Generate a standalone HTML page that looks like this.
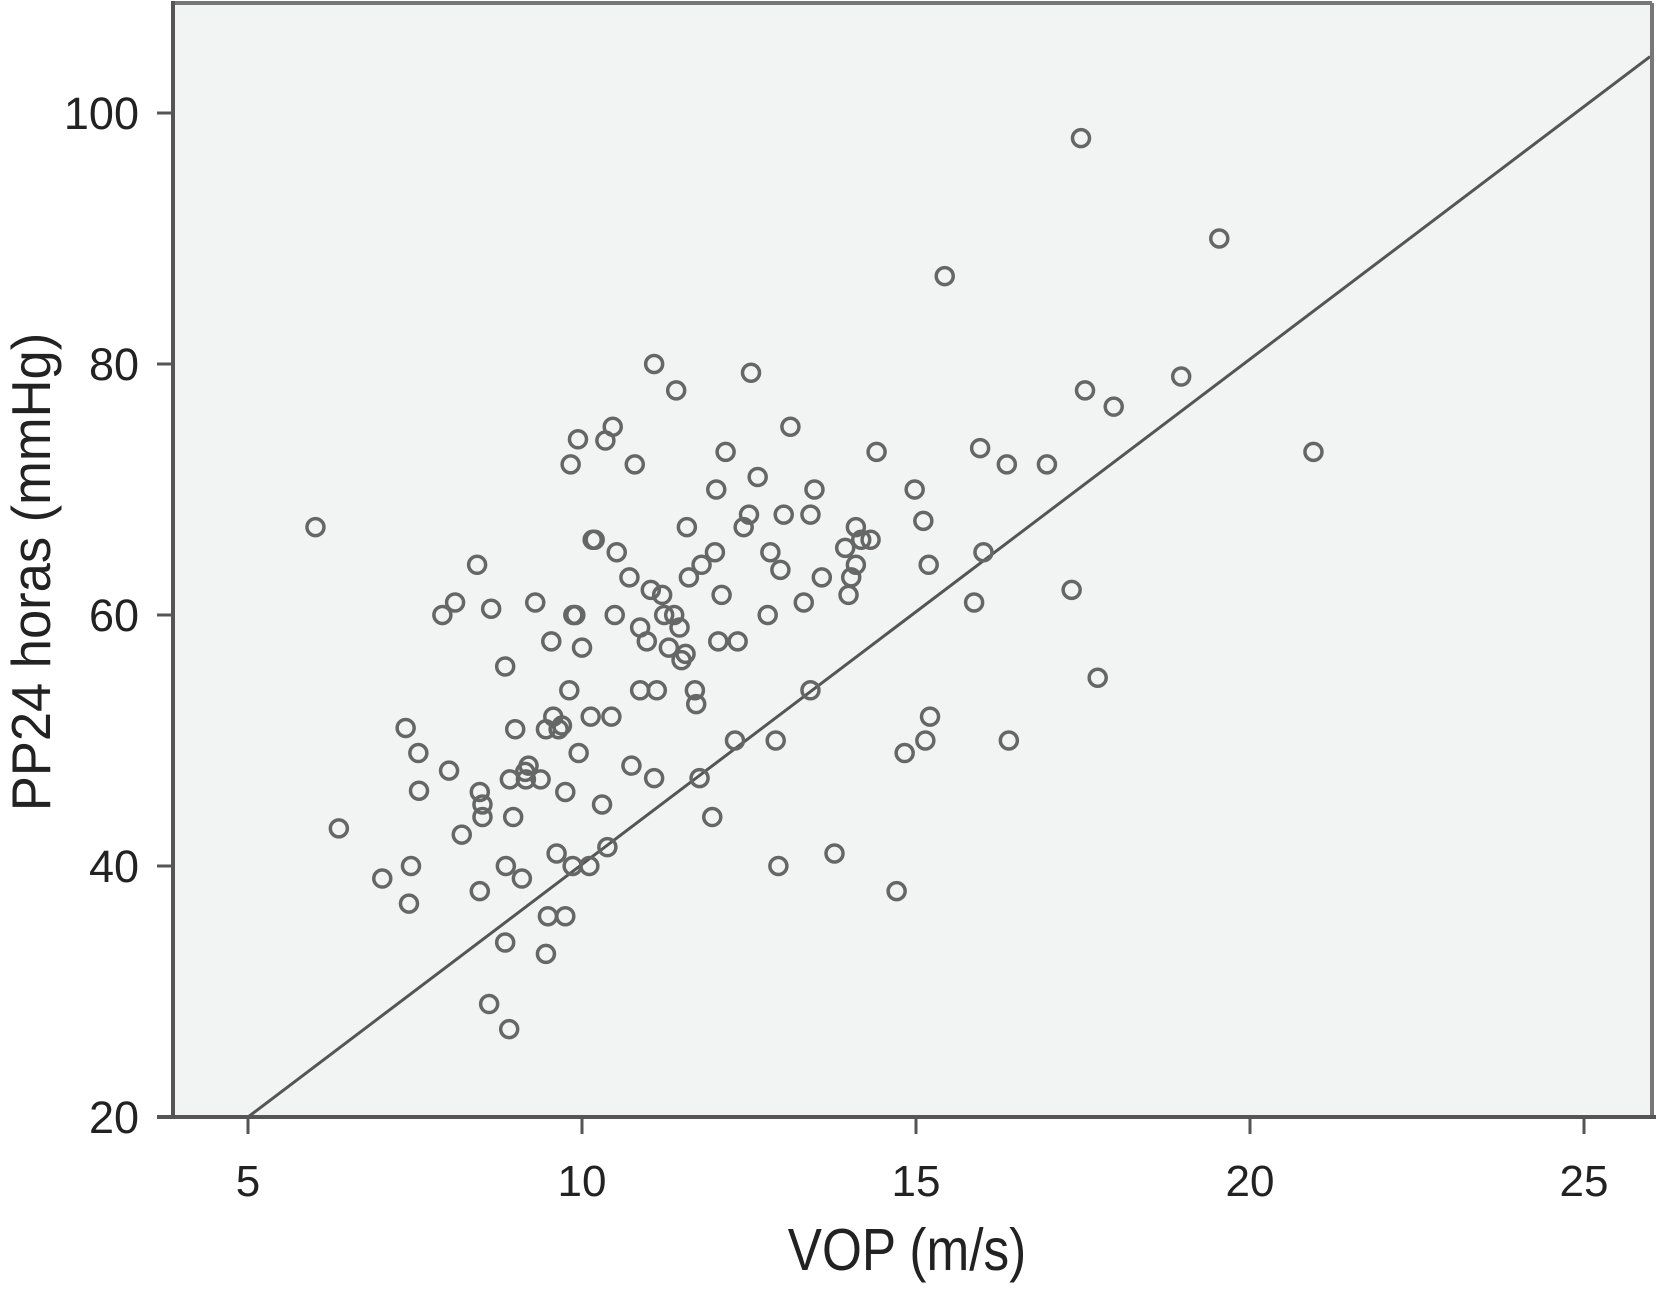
<!DOCTYPE html>
<html><head><meta charset="utf-8"><style>
html,body{margin:0;padding:0;background:#fff;}
svg{display:block;font-family:"Liberation Sans",Arial,sans-serif;}
</style></head><body>
<svg id="chart" width="1659" height="1292" viewBox="0 0 1659 1292" xmlns="http://www.w3.org/2000/svg">
<rect x="173" y="3" width="1479" height="1114" fill="#f2f3f3"/>
<g id="marks"></g>
<line x1="173" y1="3" x2="1652" y2="3" stroke="#777" stroke-width="4"/>
<line x1="1652" y1="3" x2="1652" y2="1117" stroke="#777" stroke-width="4"/>
<line x1="173" y1="1" x2="173" y2="1117" stroke="#555" stroke-width="4"/>
<line x1="157" y1="1117" x2="1656" y2="1117" stroke="#555" stroke-width="4"/>
<g id="axes"></g>
<text x="907" y="1270" font-size="54" text-anchor="middle" fill="#222" transform="translate(907,1270) scale(0.95,1.1) translate(-907,-1270)">VOP (m/s)</text>
<text transform="translate(50,572) rotate(-90) scale(1.05,1.1)" font-size="50" text-anchor="middle" fill="#222">PP24 horas (mmHg)</text>
</svg>
<script>
const xTicks=[5,10,15,20,25];
const yTicks=[20,40,60,80,100];
const vop=[6.01,6.36,7.01,7.41,7.44,7.36,7.55,7.56,7.91,8.10,8.01,8.20,8.43,8.47,8.51,8.51,8.47,8.64,8.85,8.61,8.85,8.91,8.86,8.92,9.0,8.97,9.10,9.30,9.16,9.2,9.15,9.38,9.46,9.49,9.54,9.46,9.57,9.65,9.7,9.62,9.75,9.75,9.81,9.83,9.94,9.87,9.9,10.0,9.95,9.86,10.11,10.13,10.16,10.19,10.30,10.35,10.46,10.44,10.38,10.49,10.52,10.71,10.79,10.74,10.87,10.87,10.97,11.03,11.08,11.08,11.12,11.20,11.23,11.30,11.38,11.41,11.46,11.49,11.55,11.57,11.6,11.69,11.71,11.76,11.79,11.95,11.99,12.01,12.04,12.09,12.15,12.29,12.33,12.42,12.50,12.53,12.63,12.78,12.82,12.90,12.97,13.02,12.94,13.12,13.32,13.42,13.42,13.48,13.59,13.78,13.94,13.99,14.03,14.10,14.10,14.18,14.32,14.41,14.71,14.83,14.98,15.11,15.14,15.19,15.21,15.43,15.87,15.96,16.01,16.36,16.39,16.96,17.33,17.47,17.53,17.72,17.96,18.97,19.54,20.95];
const pp24=[67.0,43.0,39.0,37.0,40.0,51.0,49.0,46.0,60.0,61.0,47.6,42.5,64.0,45.9,44.9,43.9,38.0,60.5,55.9,29.0,33.9,27.0,40.0,46.9,50.9,43.9,39.0,61.0,46.9,48.0,47.5,46.9,33.0,36.0,57.9,50.9,51.9,50.9,51.2,41.0,36.0,45.9,54.0,72.0,74.0,60.0,60.0,57.4,49.0,40.0,40.0,51.9,66.0,66.0,44.9,73.9,75.0,51.9,41.5,60.0,65.0,63.0,72.0,48.0,59.0,54.0,57.9,62.0,80.0,47.0,54.0,61.6,60.0,57.4,60.0,77.9,59.0,56.4,56.9,67.0,63.0,54.0,52.9,47.0,64.0,43.9,65.0,70.0,57.9,61.6,73.0,50.0,57.9,67.0,68.0,79.3,71.0,60.0,65.0,50.0,63.6,68.0,40.0,75.0,61.0,68.0,54.0,70.0,63.0,41.0,65.35,61.6,63.0,67.0,64.0,66.0,66.0,73.0,38.0,49.0,70.0,67.5,50.0,64.0,51.9,87.0,61.0,73.3,65.0,72.0,50.0,72.0,62.0,98.0,77.9,55.0,76.6,79.0,90.0,73.0];
const fitX=[5,25.99];
const fitY=[20,104.5];
const sx=v=>248+(v-5)*(1584-248)/20;
const sy=v=>1117-(v-20)*(1117-113)/80;
const NS="http://www.w3.org/2000/svg";
const marks=document.getElementById('marks');
const axes=document.getElementById('axes');
function mk(tag,attrs,parent){const e=document.createElementNS(NS,tag);for(const k in attrs)e.setAttribute(k,attrs[k]);parent.appendChild(e);return e;}
const fit=mk('line',{x1:sx(fitX[0]),y1:sy(fitY[0]),x2:sx(fitX[1]),y2:sy(fitY[1]),stroke:'#555','stroke-width':3},marks);


for(let i=0;i<vop.length;i++){
  const c=mk('circle',{cx:sx(vop[i]),cy:sy(pp24[i]),r:8.5,fill:'none',stroke:'#666','stroke-width':3.5},marks);
  
  
}
xTicks.forEach(t=>{
  const l=mk('line',{x1:sx(t),y1:1117,x2:sx(t),y2:1134,stroke:'#555','stroke-width':3},axes);
  
  
  const tx=mk('text',{x:sx(t),y:1196,'font-size':44,'text-anchor':'middle',fill:'#222'},axes);
  tx.textContent=t;
  
  
});
yTicks.forEach(t=>{
  const l=mk('line',{x1:157,y1:sy(t),x2:173,y2:sy(t),stroke:'#555','stroke-width':3},axes);
  
  
  const tx=mk('text',{x:139,y:sy(t)+16,'font-size':45,'text-anchor':'end',fill:'#222'},axes);
  tx.textContent=t;
  
  
});
</script>
</body></html>
